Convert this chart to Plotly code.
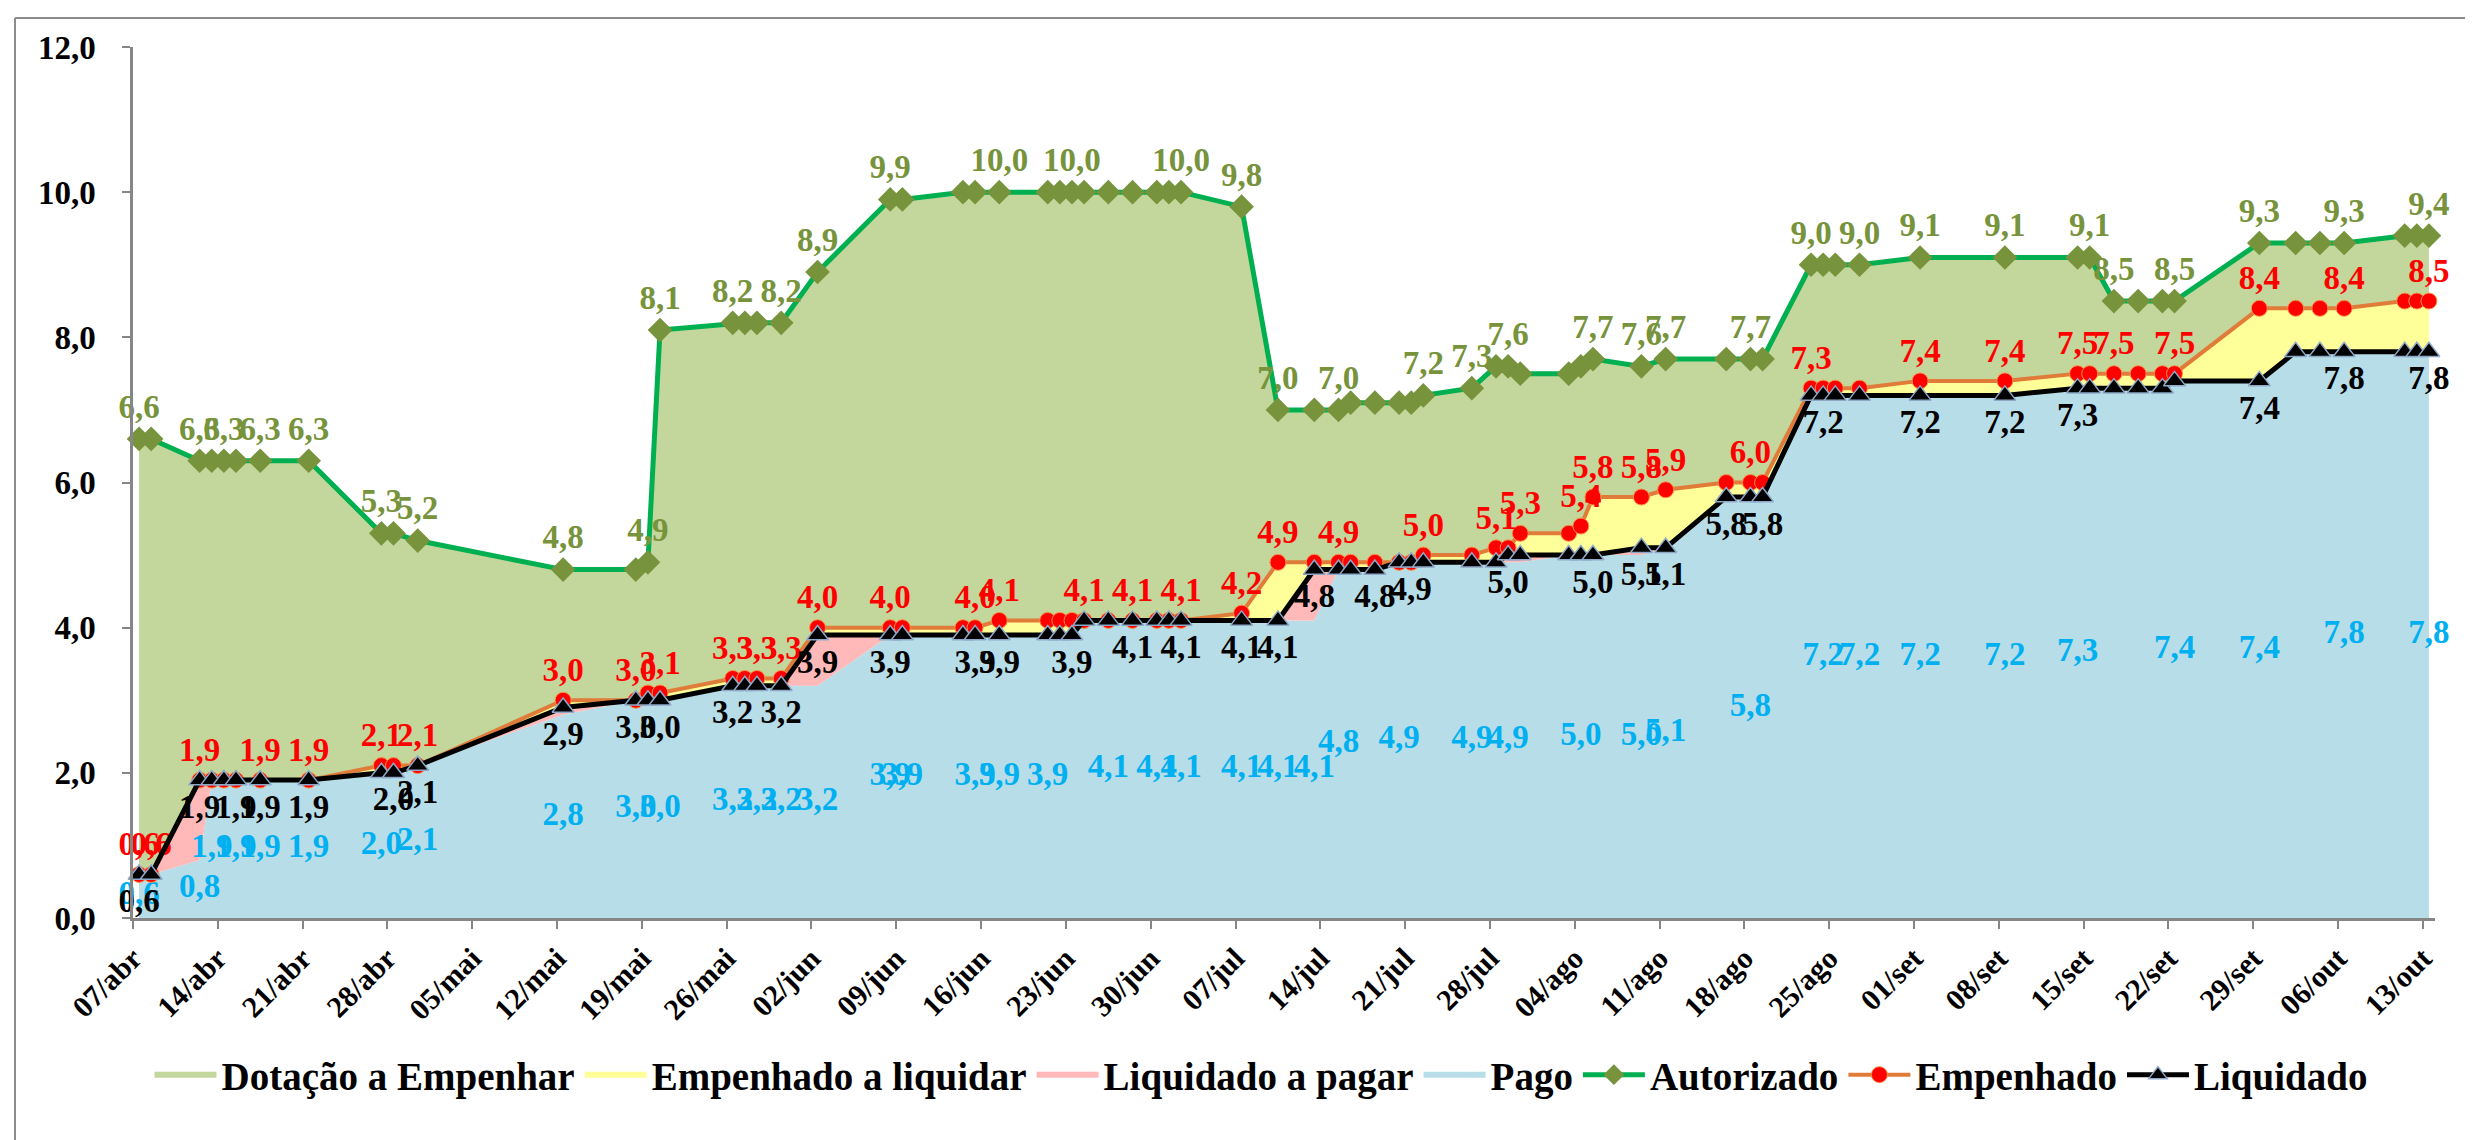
import plotly.graph_objects as go
import pandas as pd

# datas das posicoes (dd/mm, 2014)
datas = ["07/04", "08/04", "12/04", "13/04", "14/04", "15/04", "17/04", "21/04", "27/04", "28/04",
         "30/04", "12/05", "18/05", "19/05", "20/05", "26/05", "27/05", "28/05", "30/05", "02/06",
         "08/06", "09/06", "14/06", "15/06", "17/06", "21/06", "22/06", "23/06", "24/06", "26/06",
         "28/06", "30/06", "01/07", "02/07", "07/07", "10/07", "13/07", "15/07", "16/07", "18/07",
         "20/07", "21/07", "22/07", "26/07", "28/07", "29/07", "30/07", "03/08", "04/08", "05/08",
         "09/08", "11/08", "16/08", "18/08", "19/08", "23/08", "24/08", "25/08", "27/08", "01/09",
         "08/09", "14/09", "15/09", "17/09", "19/09", "21/09", "22/09", "29/09", "02/10", "04/10",
         "06/10", "11/10", "12/10", "13/10"]

autorizado = [6.6, 6.6, 6.3, 6.3, 6.3, 6.3, 6.3, 6.3, 5.3, 5.3,
              5.2, 4.8, 4.8, 4.9, 8.1, 8.2, 8.2, 8.2, 8.2, 8.9,
              9.9, 9.9, 10.0, 10.0, 10.0, 10.0, 10.0, 10.0, 10.0, 10.0,
              10.0, 10.0, 10.0, 10.0, 9.8, 7.0, 7.0, 7.0, 7.1, 7.1,
              7.1, 7.1, 7.2, 7.3, 7.6, 7.6, 7.5, 7.5, 7.6, 7.7,
              7.6, 7.7, 7.7, 7.7, 7.7, 9.0, 9.0, 9.0, 9.0, 9.1,
              9.1, 9.1, 9.1, 8.5, 8.5, 8.5, 8.5, 9.3, 9.3, 9.3,
              9.3, 9.4, 9.4, 9.4]

empenhado = [0.6, 0.6, 1.9, 1.9, 1.9, 1.9, 1.9, 1.9, 2.1, 2.1,
             2.1, 3.0, 3.0, 3.1, 3.1, 3.3, 3.3, 3.3, 3.3, 4.0,
             4.0, 4.0, 4.0, 4.0, 4.1, 4.1, 4.1, 4.1, 4.1, 4.1,
             4.1, 4.1, 4.1, 4.1, 4.2, 4.9, 4.9, 4.9, 4.9, 4.9,
             4.9, 4.9, 5.0, 5.0, 5.1, 5.1, 5.3, 5.3, 5.4, 5.8,
             5.8, 5.9, 6.0, 6.0, 6.0, 7.3, 7.3, 7.3, 7.3, 7.4,
             7.4, 7.5, 7.5, 7.5, 7.5, 7.5, 7.5, 8.4, 8.4, 8.4,
             8.4, 8.5, 8.5, 8.5]

liquidado = [0.6, 0.6, 1.9, 1.9, 1.9, 1.9, 1.9, 1.9, 2.0, 2.0,
             2.1, 2.9, 3.0, 3.0, 3.0, 3.2, 3.2, 3.2, 3.2, 3.9,
             3.9, 3.9, 3.9, 3.9, 3.9, 3.9, 3.9, 3.9, 4.1, 4.1,
             4.1, 4.1, 4.1, 4.1, 4.1, 4.1, 4.8, 4.8, 4.8, 4.8,
             4.9, 4.9, 4.9, 4.9, 4.9, 5.0, 5.0, 5.0, 5.0, 5.0,
             5.1, 5.1, 5.8, 5.8, 5.8, 7.2, 7.2, 7.2, 7.2, 7.2,
             7.2, 7.3, 7.3, 7.3, 7.3, 7.3, 7.4, 7.4, 7.8, 7.8,
             7.8, 7.8, 7.8, 7.8]

pago = [0.6, 0.6, 0.8, 1.9, 1.9, 1.9, 1.9, 1.9, 2.0, 2.0,
        2.1, 2.8, 3.0, 3.0, 3.0, 3.2, 3.2, 3.2, 3.2, 3.2,
        3.9, 3.9, 3.9, 3.9, 3.9, 3.9, 3.9, 3.9, 4.1, 4.1,
        4.1, 4.1, 4.1, 4.1, 4.1, 4.1, 4.1, 4.8, 4.8, 4.8,
        4.9, 4.9, 4.9, 4.9, 4.9, 4.9, 4.9, 5.0, 5.0, 5.0,
        5.0, 5.1, 5.8, 5.8, 5.8, 7.2, 7.2, 7.2, 7.2, 7.2,
        7.2, 7.3, 7.3, 7.3, 7.3, 7.3, 7.4, 7.4, 7.8, 7.8,
        7.8, 7.8, 7.8, 7.8]

# pontos que levam rotulo em cada serie
rot_autorizado = ["07/04", "12/04", "14/04", "17/04", "21/04", "27/04", "30/04", "12/05", "19/05", "20/05",
                  "26/05", "30/05", "02/06", "08/06", "17/06", "23/06", "02/07", "07/07", "10/07", "15/07",
                  "22/07", "26/07", "29/07", "05/08", "09/08", "11/08", "18/08", "23/08", "27/08", "01/09",
                  "08/09", "15/09", "17/09", "22/09", "29/09", "06/10", "13/10"]
rot_empenhado = ["07/04", "08/04", "12/04", "17/04", "21/04", "27/04", "30/04", "12/05", "18/05", "20/05",
                 "26/05", "28/05", "30/05", "02/06", "08/06", "15/06", "17/06", "24/06", "28/06", "02/07",
                 "07/07", "10/07", "15/07", "22/07", "28/07", "30/07", "04/08", "05/08", "09/08", "11/08",
                 "18/08", "23/08", "01/09", "08/09", "14/09", "17/09", "22/09", "29/09", "06/10", "13/10"]
rot_liquidado = ["07/04", "12/04", "15/04", "17/04", "21/04", "28/04", "30/04", "12/05", "18/05", "20/05",
                 "26/05", "30/05", "02/06", "08/06", "15/06", "17/06", "23/06", "28/06", "02/07", "07/07",
                 "10/07", "13/07", "18/07", "21/07", "29/07", "05/08", "09/08", "11/08", "16/08", "19/08",
                 "24/08", "01/09", "08/09", "14/09", "29/09", "06/10", "13/10"]
rot_pago = ["07/04", "12/04", "13/04", "15/04", "17/04", "21/04", "27/04", "30/04", "12/05", "18/05",
            "20/05", "26/05", "28/05", "30/05", "02/06", "08/06", "09/06", "15/06", "17/06", "21/06",
            "26/06", "30/06", "02/07", "07/07", "10/07", "13/07", "15/07", "20/07", "26/07", "29/07",
            "04/08", "09/08", "11/08", "18/08", "24/08", "27/08", "01/09", "08/09", "14/09", "22/09",
            "29/09", "06/10", "13/10"]

semanas = ["07/abr", "14/abr", "21/abr", "28/abr", "05/mai", "12/mai", "19/mai", "26/mai", "02/jun",
           "09/jun", "16/jun", "23/jun", "30/jun", "07/jul", "14/jul", "21/jul", "28/jul", "04/ago",
           "11/ago", "18/ago", "25/ago", "01/set", "08/set", "15/set", "22/set", "29/set", "06/out",
           "13/out"]
meses = {"abr": 4, "mai": 5, "jun": 6, "jul": 7, "ago": 8, "set": 9, "out": 10}

FONTE = "Liberation Serif, Times New Roman, serif"
TAM = 33

# excel desenha cada ponto no meio do dia
x = pd.to_datetime(["2014-%s-%s" % (d[3:], d[:2]) for d in datas]) + pd.Timedelta(hours=12)
ticks = [pd.Timestamp(2014, meses[s[3:]], int(s[:2])) for s in semanas]


def rotulos(valores, marcados):
    return [f"{v:.1f}".replace(".", ",") if d in marcados else "" for d, v in zip(datas, valores)]


fig = go.Figure()

# areas empilhadas
fig.add_trace(go.Scatter(x=x, y=pago, mode="none", fill="tozeroy", fillcolor="#B7DDE8",
                         name="Pago", legendrank=4))
fig.add_trace(go.Scatter(x=x, y=liquidado, mode="none", fill="tonexty", fillcolor="#FFB9B9",
                         name="Liquidado a pagar", legendrank=3))
fig.add_trace(go.Scatter(x=x, y=empenhado, mode="none", fill="tonexty", fillcolor="#FFFF99",
                         name="Empenhado a liquidar", legendrank=2))
fig.add_trace(go.Scatter(x=x, y=autorizado, mode="none", fill="tonexty", fillcolor="#C3D69B",
                         name="Dotação a Empenhar", legendrank=1))

# rotulos do pago no meio da area azul
fig.add_trace(go.Scatter(x=x, y=[p / 2 for p in pago], mode="text", text=rotulos(pago, rot_pago),
                         textfont=dict(family=FONTE, size=TAM, color="#00B0F0", weight="bold"),
                         showlegend=False, cliponaxis=False))

fig.add_trace(go.Scatter(
    x=x, y=autorizado, mode="lines+markers+text", name="Autorizado", legendrank=5,
    line=dict(color="#00B050", width=5),
    marker=dict(symbol="diamond", size=19, color="#77933C"),
    text=rotulos(autorizado, rot_autorizado), textposition="top center",
    textfont=dict(family=FONTE, size=TAM, color="#77933C", weight="bold"), cliponaxis=False))

fig.add_trace(go.Scatter(
    x=x, y=empenhado, mode="lines+markers+text", name="Empenhado", legendrank=6,
    line=dict(color="#E07B39", width=4),
    marker=dict(symbol="circle", size=16, color="#FF0000", line=dict(color="#F79646", width=1)),
    text=rotulos(empenhado, rot_empenhado), textposition="top center",
    textfont=dict(family=FONTE, size=TAM, color="#FF0000", weight="bold"), cliponaxis=False))

fig.add_trace(go.Scatter(
    x=x, y=liquidado, mode="lines+markers+text", name="Liquidado", legendrank=7,
    line=dict(color="black", width=5),
    marker=dict(symbol="triangle-up", size=19, color="black", line=dict(color="#8EA9C8", width=1.5)),
    text=rotulos(liquidado, rot_liquidado), textposition="bottom center",
    textfont=dict(family=FONTE, size=TAM, color="black", weight="bold"), cliponaxis=False))

fig.update_layout(
    width=2473, height=1140,
    margin=dict(l=125, r=46, t=39, b=230),
    paper_bgcolor="white", plot_bgcolor="white",
    separators=",.",
    font=dict(family=FONTE, color="black"),
    legend=dict(orientation="h", x=0.49, xanchor="center", y=-0.18, yanchor="middle",
                font=dict(family=FONTE, size=39, color="black", weight="bold"),
                itemwidth=62, traceorder="normal"),
    xaxis=dict(type="date", range=[pd.Timestamp(2014, 4, 7), pd.Timestamp(2014, 10, 14)],
               tickvals=ticks, ticktext=semanas, tickangle=-45,
               tickfont=dict(family=FONTE, size=30, color="black", weight="bold"),
               showline=True, linecolor="#868686", linewidth=2.5,
               ticks="outside", ticklen=8, tickcolor="#868686", tickwidth=2,
               showgrid=False, zeroline=False, automargin=False),
    yaxis=dict(range=[0, 12], dtick=2, tickformat=".1f",
               tickfont=dict(family=FONTE, size=TAM, color="black", weight="bold"),
               ticklabelstandoff=20,
               showline=True, linecolor="#868686", linewidth=2.5,
               ticks="outside", ticklen=8, tickcolor="#868686", tickwidth=2,
               showgrid=False, zeroline=False, automargin=False),
    shapes=[
        dict(type="line", xref="paper", yref="paper", x0=-118 / 2302, x1=-118 / 2302,
             y0=900 / 871, y1=-1.0, line=dict(color="#8C8C8C", width=2)),
        dict(type="line", xref="paper", yref="paper", x0=-118 / 2302, x1=1.1,
             y0=900 / 871, y1=900 / 871, line=dict(color="#8C8C8C", width=2)),
    ],
)

fig.write_html("out.html")
